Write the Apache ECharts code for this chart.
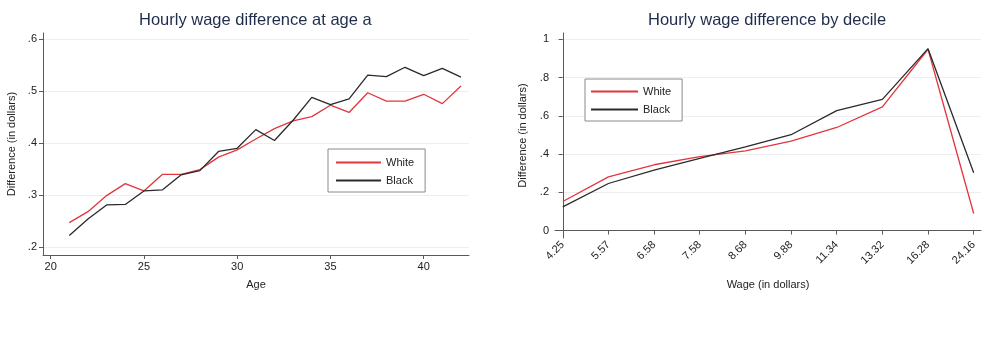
<!DOCTYPE html>
<html>
<head>
<meta charset="utf-8">
<script src="https://cdn.jsdelivr.net/npm/echarts@6/dist/echarts.min.js"></script>
<style>html,body{margin:0;padding:0;background:#fff;}#c{width:987px;height:342px;}</style>
</head>
<body>
<div id="c"></div>
<script>
// Left panel: by age
const ages = [21,22,23,24,25,26,27,28,29,30,31,32,33,34,35,36,37,38,39,40,41,42];
const whiteByAge = [0.247,0.268,0.299,0.322,0.308,0.340,0.340,0.349,0.373,0.387,0.408,0.428,0.443,0.451,0.473,0.459,0.497,0.481,0.481,0.494,0.476,0.510];
const blackByAge = [0.222,0.254,0.281,0.282,0.308,0.310,0.339,0.347,0.384,0.390,0.426,0.405,0.444,0.488,0.474,0.485,0.531,0.528,0.546,0.530,0.544,0.527];
const ageTicks = [20,25,30,35,40];
const leftYTicks = [0.2,0.3,0.4,0.5,0.6];

// Right panel: by decile
const deciles = ['4.25','5.57','6.58','7.58','8.68','9.88','11.34','13.32','16.28','24.16'];
const whiteByDecile = [0.152,0.281,0.344,0.386,0.417,0.468,0.539,0.647,0.948,0.089];
const blackByDecile = [0.124,0.246,0.316,0.377,0.438,0.501,0.627,0.686,0.951,0.302];
const rightYTicks = [0,0.2,0.4,0.6,0.8,1];

const RED = '#e2363c', BLACK = '#2a2a2a', AXIS = '#5a5a5a', GRID = '#eceef1', TXT = '#222';
const FONT = 'Liberation Sans, Arial, sans-serif';
const fmtDec = v => { if (v === 0) return '0'; if (Math.abs(v-1) < 1e-9) return '1'; return String(+v.toFixed(2)).replace(/^0/, ''); };

const axisCommon = {
  axisLine: { show: true, lineStyle: { color: AXIS, width: 1 } },
  axisTick: { show: true, length: 4, lineStyle: { color: AXIS } },
  axisLabel: { color: TXT, fontSize: 11, fontFamily: FONT },
  nameTextStyle: { color: TXT, fontSize: 11, fontFamily: FONT },
  nameLocation: 'middle'
};

const legendCommon = {
  orient: 'vertical', itemGap: 7, itemHeight: 10,
  borderColor: '#8a8a8a', borderWidth: 1, backgroundColor: '#fff',
  itemStyle: { opacity: 0 },
  textStyle: { color: TXT, fontSize: 11, fontFamily: FONT },
  data: ['White', 'Black']
};

const chart = echarts.init(document.getElementById('c'), null, { renderer: 'canvas' });
chart.setOption({
  animation: false,
  backgroundColor: '#fff',
  title: [
    { text: 'Hourly wage difference at age a', left: 139, top: 12, padding: 0,
      textStyle: { color: '#1f2c4c', fontSize: 16.5, fontWeight: 'normal', fontFamily: FONT } },
    { text: 'Hourly wage difference by decile', left: 648, top: 12, padding: 0,
      textStyle: { color: '#1f2c4c', fontSize: 16.5, fontWeight: 'normal', fontFamily: FONT } }
  ],
  legend: [
    Object.assign({}, legendCommon, { left: 328, top: 149, padding: [8, 11, 6, 7], itemWidth: 45 }),
    Object.assign({}, legendCommon, { left: 585, top: 79, padding: [7, 11, 6, 5], itemWidth: 47 })
  ],
  grid: [
    { left: 43, right: 518, top: 33, bottom: 87, containLabel: false },
    { left: 555, right: 6, top: 33, bottom: 104, containLabel: false }
  ],
  xAxis: [
    Object.assign({}, axisCommon, {
      gridIndex: 0, type: 'value', min: 19.59, max: 42.43, name: 'Age', nameGap: 24,
      axisTick: Object.assign({}, axisCommon.axisTick, { customValues: ageTicks }),
      axisLabel: Object.assign({}, axisCommon.axisLabel, { customValues: ageTicks, margin: 6 }),
      splitLine: { show: false }
    }),
    Object.assign({}, axisCommon, {
      gridIndex: 1, type: 'value', min: -0.17, max: 9.16, name: 'Wage (in dollars)', nameGap: 41,
      axisTick: Object.assign({}, axisCommon.axisTick, { customValues: deciles.map((d, i) => i) }),
      axisLabel: Object.assign({}, axisCommon.axisLabel, { customValues: deciles.map((d, i) => i), rotate: 45, margin: 5,
        formatter: v => deciles[Math.round(v)] }),
      splitLine: { show: false }
    })
  ],
  yAxis: [
    Object.assign({}, axisCommon, {
      gridIndex: 0, type: 'value', min: 0.1846, max: 0.612, name: 'Difference (in dollars)', nameGap: 26,
      axisTick: Object.assign({}, axisCommon.axisTick, { customValues: leftYTicks }),
      axisLabel: Object.assign({}, axisCommon.axisLabel, { customValues: leftYTicks, margin: 6, formatter: fmtDec }),
      splitLine: { show: true, lineStyle: { color: GRID, width: 1 } }
    }),
    Object.assign({}, axisCommon, {
      gridIndex: 1, type: 'value', min: -0.039, max: 1.033, name: 'Difference (in dollars)', nameGap: 27,
      axisTick: Object.assign({}, axisCommon.axisTick, { customValues: rightYTicks }),
      axisLabel: Object.assign({}, axisCommon.axisLabel, { customValues: rightYTicks, margin: 6, formatter: fmtDec }),
      splitLine: { show: true, lineStyle: { color: GRID, width: 1 } }
    })
  ],
  series: [
    { name: 'White', type: 'line', xAxisIndex: 0, yAxisIndex: 0, symbol: 'none', color: RED,
      lineStyle: { color: RED, width: 1.3 }, data: ages.map((a, i) => [a, whiteByAge[i]]) },
    { name: 'Black', type: 'line', xAxisIndex: 0, yAxisIndex: 0, symbol: 'none', color: BLACK,
      lineStyle: { color: BLACK, width: 1.3 }, data: ages.map((a, i) => [a, blackByAge[i]]) },
    { name: 'White', type: 'line', xAxisIndex: 1, yAxisIndex: 1, symbol: 'none', color: RED,
      lineStyle: { color: RED, width: 1.3 }, data: deciles.map((d, i) => [i, whiteByDecile[i]]) },
    { name: 'Black', type: 'line', xAxisIndex: 1, yAxisIndex: 1, symbol: 'none', color: BLACK,
      lineStyle: { color: BLACK, width: 1.3 }, data: deciles.map((d, i) => [i, blackByDecile[i]]) }
  ]
});
</script>
</body>
</html>
